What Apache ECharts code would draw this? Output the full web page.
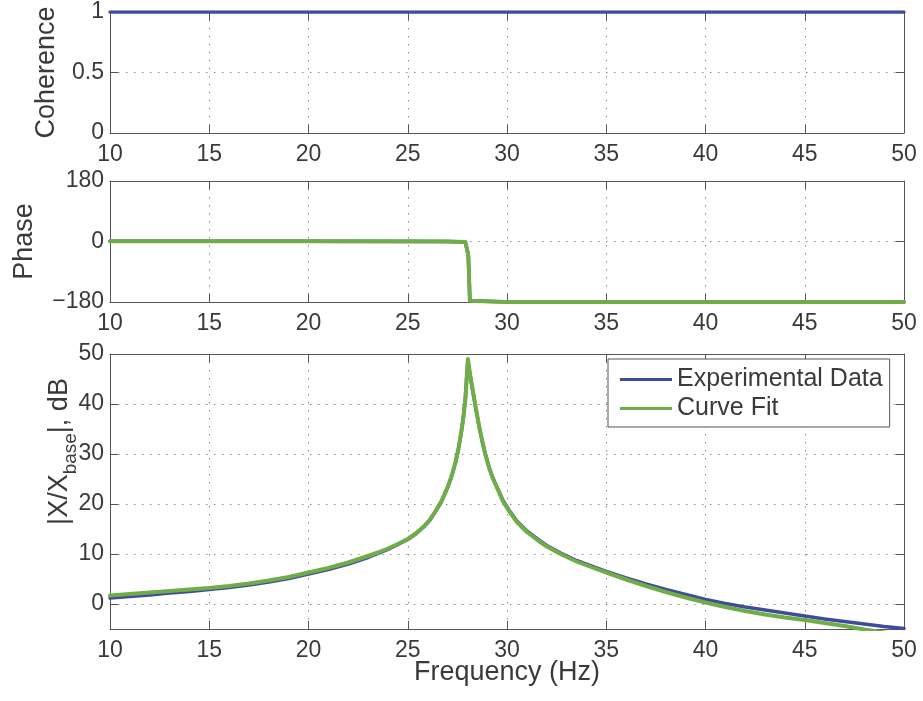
<!DOCTYPE html>
<html>
<head>
<meta charset="utf-8">
<script src="https://cdn.jsdelivr.net/npm/echarts@6/dist/echarts.min.js"></script>
<style>
  html, body { margin: 0; padding: 0; background: #fff; }
  #chart { width: 923px; height: 701px; }
</style>
</head>
<body>
<div id="chart"></div>
<script>
// Frequency axis (Hz) shared by all three panels
const xTicks = [10, 15, 20, 25, 30, 35, 40, 45, 50];

// Coherence of the measured response
const cohFreq = [10, 15, 20, 25, 28, 30, 35, 40, 45, 50];
const cohExp  = [1, 1, 1, 1, 1, 1, 1, 1, 1, 1];

// Phase (deg)
const phaseFreq  = [10, 15, 20, 25, 27, 27.9, 28.0, 28.05, 28.13, 28.2, 30, 35, 40, 45, 50];
const phaseExp   = [0.6, 0.6, 0.5, 0.3, 0, -1.5, -6, -40, -176, -179.5, -180, -180, -180, -180, -180];
const phaseFit   = [0.8, 0.7, 0.6, 0.4, 0, -1.5, -6, -40, -176, -179.5, -180, -180, -180, -180, -180];

// Transmissibility magnitude |X/Xbase| (dB)
const magFreq = [10, 11, 12, 13, 14, 15, 16, 17, 18, 19, 20, 21, 22, 23,
                 23.5, 24, 24.5, 25, 25.4, 25.8, 26.1, 26.4, 26.7, 27.0,
                 27.2, 27.4, 27.55, 27.7, 27.8, 27.9, 27.97, 28.03, 28.1, 28.2,
                 28.3, 28.45, 28.6, 28.75, 28.9, 29.1, 29.3, 29.55, 29.8, 30.1,
                 30.5, 31.0, 31.5, 32, 32.7, 33.5, 34.3, 35,
                 36, 37, 38, 39, 40, 41, 42, 43, 44, 45, 46, 47, 48, 49, 50];
const magExp = [1.2, 1.5, 1.8, 2.2, 2.5, 2.9, 3.3, 3.8, 4.4, 5.1, 6.0, 6.9, 8.0, 9.3,
                10.1, 10.9, 11.9, 12.9, 14.0, 15.4, 16.7, 18.5, 20.5, 23.2,
                25.4, 28.2, 30.9, 34.4, 37.3, 41.0, 45.5, 48.6, 46.8, 44.3,
                42.0, 38.6, 35.4, 32.6, 30.1, 27.3, 25.1, 22.9, 20.7, 18.8,
                16.6, 14.6, 13.1, 11.7, 10.2, 8.7, 7.5, 6.5,
                5.2, 4.0, 2.9, 1.9, 0.9, 0.1, -0.6, -1.2, -1.8, -2.4, -3.0, -3.5, -4.0, -4.5, -4.9];
const magFit = [1.7, 2.0, 2.3, 2.6, 2.9, 3.2, 3.6, 4.1, 4.7, 5.4, 6.3, 7.2, 8.3, 9.6,
                10.3, 11.1, 12.0, 13.0, 14.1, 15.5, 16.8, 18.6, 20.6, 23.3,
                25.5, 28.3, 31.0, 34.5, 37.2, 40.8, 45.0, 49.0, 47.0, 44.5,
                42.2, 38.8, 35.5, 32.6, 30.0, 27.2, 25.0, 22.8, 20.5, 18.6,
                16.4, 14.4, 12.9, 11.5, 10.0, 8.5, 7.3, 6.3,
                4.9, 3.6, 2.4, 1.3, 0.3, -0.6, -1.4, -2.1, -2.7, -3.2, -3.8, -4.4, -5.1, -5.7, -6.3];

const seriesNames = ['Experimental Data', 'Curve Fit'];

const FONT = '"Liberation Sans", Arial, Helvetica, sans-serif';
const TXT = '#3a3a3a';
const AX = '#555555';
const GRIDC = '#8c8c8c';
const BLUE = '#3f4c9c';
const GREEN = '#70ad48';

const zip = (xs, ys) => xs.map((x, i) => [x, ys[i]]);

const grids = [
  { left: 110, top: 12,  width: 794, height: 121 },
  { left: 110, top: 181, width: 794, height: 121 },
  { left: 110, top: 354, width: 794, height: 275 }
].map(g => Object.assign({ containLabel: false, outerBoundsMode: 'none' }, g));

const dotted = { show: true, lineStyle: { type: [1.5, 6.5], color: GRIDC, width: 1 } };

function xAxisPair(gi, withName) {
  const base = {
    type: 'value', gridIndex: gi, min: xTicks[0], max: xTicks[xTicks.length - 1], interval: 5,
    axisLine: { show: true, onZero: false, lineStyle: { color: AX, width: 1 } },
    axisTick: { show: true, inside: true, length: 8, lineStyle: { color: AX } }
  };
  const bottom = Object.assign({}, base, {
    position: 'bottom',
    axisLabel: { fontSize: 23, color: TXT, margin: 10, fontFamily: FONT },
    splitLine: dotted
  });
  if (withName) {
    Object.assign(bottom, {
      name: 'Frequency (Hz)', nameLocation: 'middle', nameGap: 30, nameMoveOverlap: false,
      nameTextStyle: { fontSize: 27, color: TXT, fontFamily: FONT }
    });
  }
  const top = Object.assign({}, base, {
    position: 'top', axisLabel: { show: false }, splitLine: { show: false }
  });
  return [bottom, top];
}

function yAxisPair(gi, opts) {
  const base = Object.assign({
    type: 'value', gridIndex: gi,
    axisLine: { show: true, onZero: false, lineStyle: { color: AX, width: 1 } },
    axisTick: { show: true, inside: true, length: 8, lineStyle: { color: AX } }
  }, opts.scale);
  const left = Object.assign({}, base, {
    position: 'left',
    axisLabel: Object.assign({ fontSize: 23, color: TXT, margin: 6, fontFamily: FONT }, opts.label || {}),
    splitLine: dotted,
    name: opts.name, nameLocation: 'middle', nameGap: opts.nameGap, nameMoveOverlap: false,
    nameTextStyle: Object.assign({ fontSize: 27, color: TXT, fontFamily: FONT }, opts.nameStyle || {})
  });
  const right = Object.assign({}, base, {
    position: 'right', axisLabel: { show: false }, splitLine: { show: false }
  });
  return [left, right];
}

const minus = v => String(v).replace('-', '\u2212');

const xAxes = [].concat(xAxisPair(0, false), xAxisPair(1, false), xAxisPair(2, true));
const yAxes = [].concat(
  yAxisPair(0, { scale: { min: 0, max: 1, interval: 0.5 }, name: 'Coherence', nameGap: 50 }),
  yAxisPair(1, { scale: { min: -180, max: 180, interval: 180 }, name: 'Phase', nameGap: 72,
                 label: { formatter: minus } }),
  yAxisPair(2, { scale: { min: -5, max: 50, splitNumber: 5 },
                 label: { showMinLabel: false, formatter: minus },
                 name: '|X/X{s|base}|, dB', nameGap: 30,
                 nameStyle: { lineHeight: 40, padding: [0, 0, 0, 80],
                              rich: { s: { fontSize: 19, lineHeight: 19, verticalAlign: 'bottom',
                                           color: TXT, fontFamily: FONT } } } })
);

function line(name, xi, yi, data, color, width, z) {
  return {
    name, type: 'line', xAxisIndex: xi, yAxisIndex: yi, data,
    showSymbol: false, symbol: 'none', smooth: false, clip: true, z,
    lineStyle: { color, width, join: 'round', cap: 'round' }, itemStyle: { color }
  };
}

const option = {
  animation: false,
  backgroundColor: '#ffffff',
  textStyle: { fontFamily: FONT },
  grid: grids,
  xAxis: xAxes,
  yAxis: yAxes,
  legend: {
    data: seriesNames, orient: 'vertical', left: 608, top: 359,
    icon: 'rect', itemWidth: 52, itemHeight: 3, itemGap: 4,
    padding: [8, 7, 6, 12],
    backgroundColor: '#ffffff', borderColor: AX, borderWidth: 1, borderRadius: 0,
    textStyle: { fontSize: 25, color: TXT, fontFamily: FONT },
    selectedMode: false, z: 10
  },
  series: [
    line(seriesNames[0], 0, 0, zip(cohFreq, cohExp), BLUE, 3.5, 2),
    line(seriesNames[0], 2, 2, zip(phaseFreq, phaseExp), BLUE, 3.5, 2),
    line(seriesNames[1], 2, 2, zip(phaseFreq, phaseFit), GREEN, 4, 3),
    line(seriesNames[0], 4, 4, zip(magFreq, magExp), BLUE, 3.5, 2),
    line(seriesNames[1], 4, 4, zip(magFreq, magFit), GREEN, 4, 3)
  ]
};

const chart = echarts.init(document.getElementById('chart'), null, { renderer: 'canvas' });
chart.setOption(option);
</script>
</body>
</html>
